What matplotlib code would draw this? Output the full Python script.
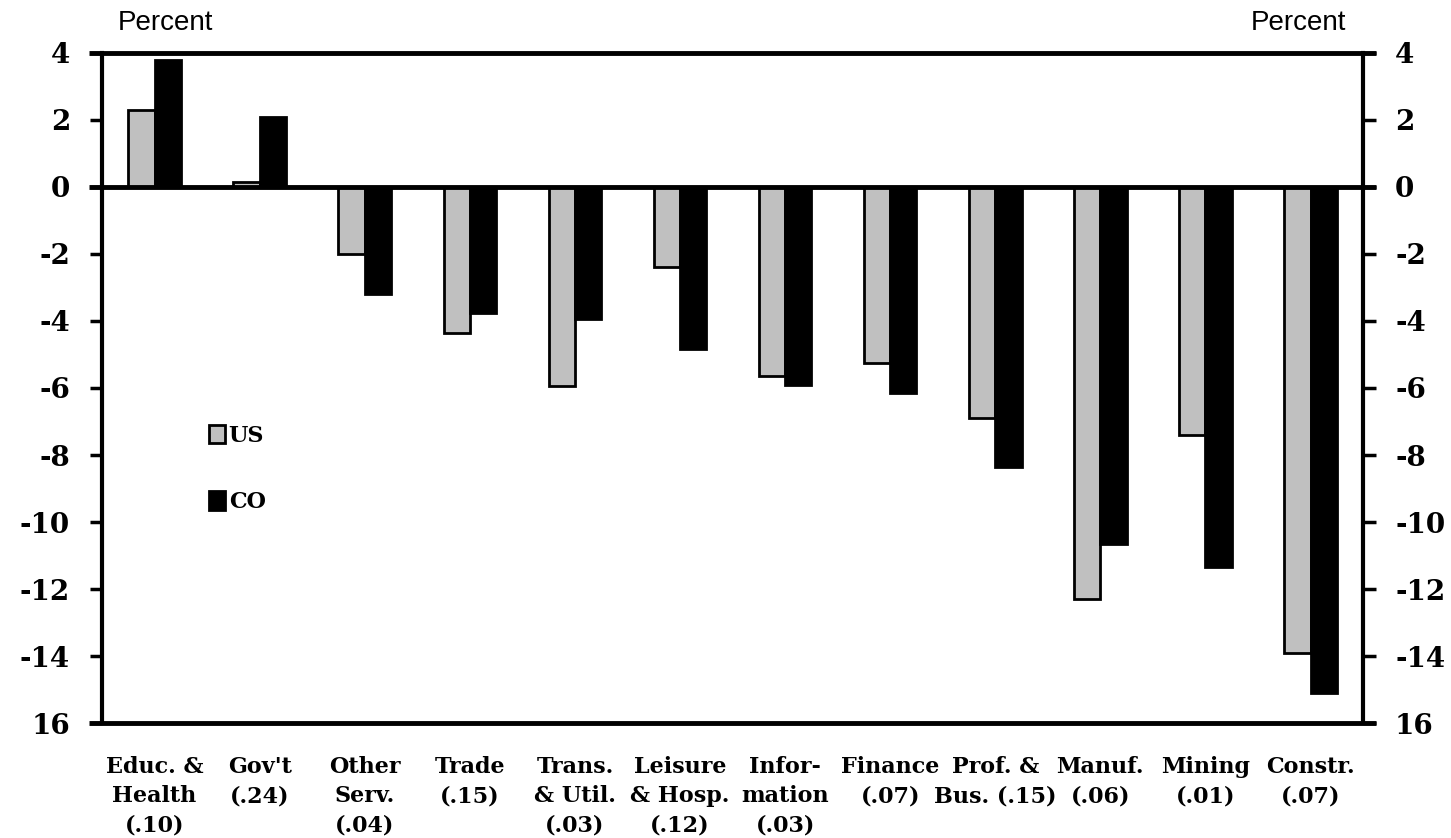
import numpy as np
import matplotlib
matplotlib.use("Agg")
import matplotlib.pyplot as plt
from matplotlib.patches import Patch
from matplotlib.font_manager import FontProperties

# data (percent change, sector share in parentheses)
sectors = ["Educ. &\nHealth\n(.10)", "Gov't\n(.24)", "Other\nServ.\n(.04)",
           "Trade\n(.15)", "Trans.\n& Util.\n(.03)", "Leisure\n& Hosp.\n(.12)",
           "Infor-\nmation\n(.03)", "Finance\n(.07)", "Prof. &\nBus. (.15)",
           "Manuf.\n(.06)", "Mining\n(.01)", "Constr.\n(.07)"]
us = [2.3, 0.15, -2.0, -4.35, -5.95, -2.4, -5.65, -5.25, -6.9, -12.3, -7.4, -13.9]
co = [3.8, 2.1, -3.2, -3.75, -3.95, -4.85, -5.9, -6.15, -8.35, -10.65, -11.35, -15.1]
yticks = [4, 2, 0, -2, -4, -6, -8, -10, -12, -14, -16]
ytick_labels = ["4", "2", "0", "-2", "-4", "-6", "-8", "-10", "-12", "-14", "16"]

fig = plt.figure(figsize=(14.51, 8.38), dpi=100)
ax = fig.add_axes([0.0703, 0.1372, 0.9394 - 0.0703, 0.9368 - 0.1372])

x = np.arange(len(sectors))
w = 0.25
ax.bar(x - w / 2, us, w, color="#c0c0c0", edgecolor="black", linewidth=2, label="US")
ax.bar(x + w / 2, co, w, color="black", edgecolor="black", linewidth=2, label="CO")

ax.set_xlim(-0.5, len(sectors) - 0.5)
ax.set_ylim(-16, 4)

tickfont = FontProperties(family="DejaVu Serif", weight="bold", size=20)
ax.set_yticks(yticks)
ax.set_yticklabels(ytick_labels)
ax.tick_params(axis="y", which="both", direction="out", length=9, width=2.5,
               pad=14, left=True, right=True, labelleft=True, labelright=True)
for lab in ax.get_yticklabels() + ax.yaxis.get_ticklabels(which="both"):
    lab.set_fontproperties(tickfont)
for t in ax.yaxis.get_major_ticks():
    t.label2.set_fontproperties(tickfont)

ax.set_xticks(x)
ax.set_xticklabels(sectors, family="DejaVu Serif", weight="bold", fontsize=16)
ax.tick_params(axis="x", length=0, pad=24)
for lab in ax.get_xticklabels():
    lab.set_linespacing(1.42)

for s in ["top", "bottom"]:
    ax.spines[s].set_visible(False)
for s in ["left", "right"]:
    ax.spines[s].set_linewidth(3)

# horizontal lines at top, zero and bottom run past the ticks
for yv in [4, 0, -16]:
    ax.plot([-0.62, len(sectors) - 0.38], [yv, yv], color="black", lw=3.5,
            clip_on=False, solid_capstyle="butt", zorder=3)

fig.text(0.0813, 0.973, "Percent", family="Liberation Sans", fontsize=20, va="center")
fig.text(0.928, 0.973, "Percent", family="Liberation Sans", fontsize=20, va="center", ha="right")

handles = [Patch(facecolor="#c0c0c0", edgecolor="black", linewidth=2),
           Patch(facecolor="black", edgecolor="black", linewidth=2)]
ax.legend(handles, ["US", "CO"], loc="upper left", bbox_to_anchor=(0.13, 0.517),
          bbox_transform=fig.transFigure, frameon=False, handlelength=0.75,
          handleheight=0.9, handletextpad=0.15, labelspacing=2.0,
          prop=dict(family="DejaVu Serif", weight="bold", size=16))

fig.savefig("out.png", dpi=100)
